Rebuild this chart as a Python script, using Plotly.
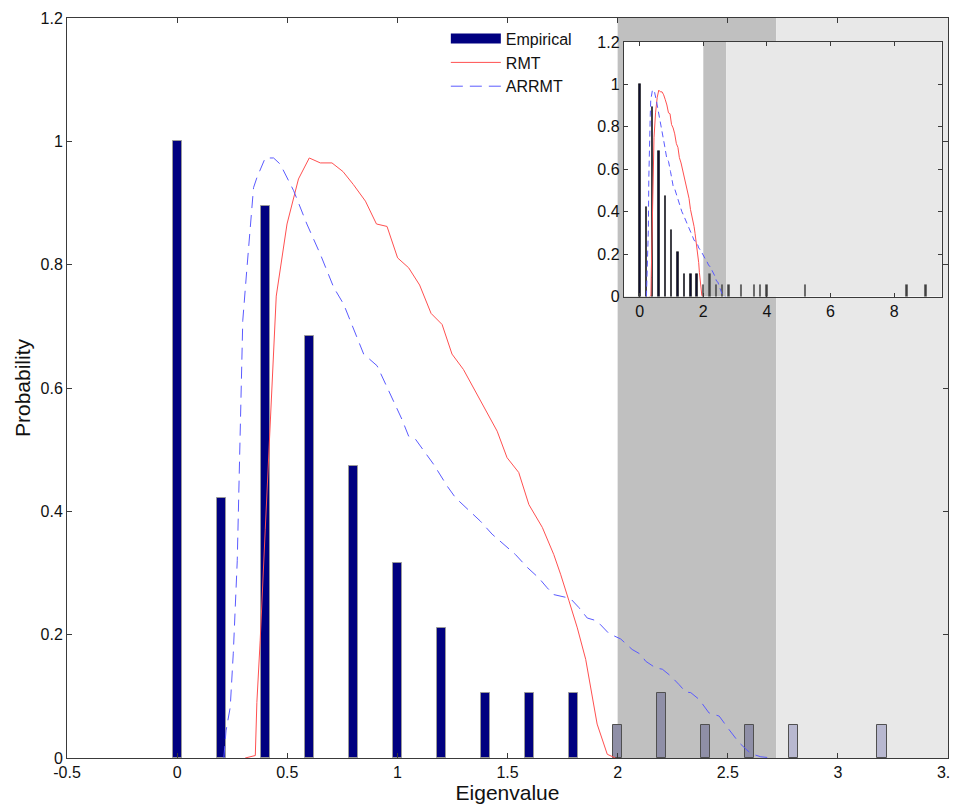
import plotly.graph_objects as go

# ---------------- data ----------------
eig_bins = [0.0, 0.2, 0.4, 0.6, 0.8, 1.0, 1.2, 1.4, 1.6, 1.8, 2.0, 2.2, 2.4, 2.6, 2.8,
            3.2, 3.6, 3.8, 4.0, 5.2, 8.4, 9.0]
emp_prob = [1.0, 0.421, 0.895, 0.684, 0.474, 0.316, 0.211, 0.105, 0.105, 0.105, 0.053,
            0.105, 0.053, 0.053, 0.053, 0.053, 0.053, 0.053, 0.053, 0.053, 0.053, 0.053]

rmt_x = [0.309, 0.355, 0.362, 0.377, 0.40, 0.423, 0.45, 0.499, 0.551, 0.60, 0.65, 0.703,
         0.753, 0.80, 0.855, 0.905, 0.953, 1.001, 1.051, 1.101, 1.153, 1.203, 1.248, 1.30,
         1.377, 1.453, 1.498, 1.551, 1.597, 1.658, 1.71, 1.741, 1.779, 1.817, 1.855, 1.877,
         1.907, 1.953, 1.99]
rmt_y = [0.0, 0.004, 0.09, 0.19, 0.37, 0.549, 0.749, 0.866, 0.939, 0.973, 0.965, 0.965,
         0.951, 0.930, 0.903, 0.866, 0.862, 0.811, 0.795, 0.767, 0.721, 0.703, 0.655, 0.630,
         0.579, 0.530, 0.487, 0.463, 0.411, 0.374, 0.330, 0.298, 0.255, 0.211, 0.160, 0.114,
         0.055, 0.006, 0.0]

arr_x = [0.212, 0.222, 0.241, 0.255, 0.273, 0.286, 0.298, 0.316, 0.332, 0.347, 0.362, 0.400,
         0.438, 0.468, 0.529, 0.589, 0.65, 0.711, 0.756, 0.786, 0.847, 0.908, 0.968, 1.021,
         1.051, 1.082, 1.165, 1.226, 1.264, 1.324, 1.377, 1.430, 1.483, 1.536, 1.590, 1.642,
         1.680, 1.710, 1.771, 1.79, 1.824, 1.862, 1.90, 1.92, 1.96, 2.014, 2.066, 2.105, 2.127,
         2.173, 2.203, 2.241, 2.279, 2.309, 2.332, 2.370, 2.415, 2.461, 2.506, 2.551, 2.605,
         2.65, 2.703]
arr_y = [0.0, 0.044, 0.082, 0.17, 0.32, 0.552, 0.709, 0.790, 0.855, 0.925, 0.941, 0.973,
         0.973, 0.963, 0.920, 0.866, 0.817, 0.763, 0.736, 0.709, 0.655, 0.636, 0.590, 0.549,
         0.522, 0.517, 0.476, 0.441, 0.422, 0.401, 0.384, 0.363, 0.347, 0.330, 0.309, 0.292,
         0.276, 0.265, 0.260, 0.257, 0.244, 0.227, 0.223, 0.217, 0.202, 0.193, 0.176, 0.168,
         0.157, 0.146, 0.144, 0.133, 0.119, 0.107, 0.106, 0.095, 0.073, 0.068, 0.046, 0.025,
         0.007, 0.002, 0.0]

rmt_edge = 2.0      # start of dark shaded band
arrmt_edge = 2.72   # start of light shaded band
main_xrange = [-0.5, 3.5]
inset_xrange = [-0.5, 9.5]
y_range = [0, 1.2]
main_xticks = [-0.5, 0, 0.5, 1, 1.5, 2, 2.5, 3, 3.5]
main_xticklabels = ["-0.5", "0", "0.5", "1", "1.5", "2", "2.5", "3", "3.5"]
inset_xticks = [0, 2, 4, 6, 8]
inset_xticklabels = ["0", "2", "4", "6", "8"]
y_ticks = [0, 0.2, 0.4, 0.6, 0.8, 1, 1.2]
y_ticklabels = ["0", "0.2", "0.4", "0.6", "0.8", "1", "1.2"]

# ---------------- styling ----------------
FONT = "Arial, Liberation Sans, Helvetica, sans-serif"
NAVY = "#000080"
DARK_BAND = "#c0c0c0"
LIGHT_BAND = "#e8e8e8"
RED = "#ff5050"
BLUE = "#5a5aff"
AX = "#3a3a3a"
TXT = "#111111"


def bar_fill(x):
    if x < rmt_edge - 1e-9:
        return NAVY
    if x < arrmt_edge:
        return "rgb(143,143,167)"
    return "rgb(184,184,208)"


def bar_edge(x, inset=False):
    if x < rmt_edge - 1e-9:
        return "#111111" if inset else "#9a9a9a"
    return "#505050"


fig = go.Figure()

# main axes traces
fig.add_trace(go.Bar(
    x=eig_bins, y=emp_prob, width=0.042, name="Empirical",
    marker=dict(color=[bar_fill(v) for v in eig_bins],
                line=dict(color=[bar_edge(v) for v in eig_bins], width=1)),
    xaxis="x", yaxis="y", showlegend=False))
# legend-only entry giving the wide patch used by the original legend
fig.add_trace(go.Scatter(
    x=[None], y=[None], mode="lines", name="Empirical",
    line=dict(color=NAVY, width=15), xaxis="x", yaxis="y"))
fig.add_trace(go.Scatter(
    x=rmt_x, y=rmt_y, mode="lines", name="RMT",
    line=dict(color=RED, width=1), xaxis="x", yaxis="y"))
fig.add_trace(go.Scatter(
    x=arr_x, y=arr_y, mode="lines", name="ARRMT",
    line=dict(color=BLUE, width=1, dash="12px,7px"), xaxis="x", yaxis="y"))

# inset traces
fig.add_trace(go.Bar(
    x=eig_bins, y=emp_prob, width=0.045, name="Empirical",
    marker=dict(color=["#101030" if v < rmt_edge else "#404040" for v in eig_bins],
                line=dict(color=[bar_edge(v, True) for v in eig_bins], width=0.6)),
    xaxis="x2", yaxis="y2", showlegend=False))
fig.add_trace(go.Scatter(
    x=rmt_x, y=rmt_y, mode="lines", name="RMT",
    line=dict(color=RED, width=1), xaxis="x2", yaxis="y2", showlegend=False))
fig.add_trace(go.Scatter(
    x=arr_x, y=arr_y, mode="lines", name="ARRMT",
    line=dict(color=BLUE, width=1, dash="6px,4px"), xaxis="x2", yaxis="y2", showlegend=False))

shapes = [
    dict(type="rect", xref="x", yref="y", x0=rmt_edge, x1=arrmt_edge, y0=y_range[0], y1=y_range[1],
         fillcolor=DARK_BAND, line=dict(width=0), layer="below"),
    dict(type="rect", xref="x", yref="y", x0=arrmt_edge, x1=main_xrange[1], y0=y_range[0], y1=y_range[1],
         fillcolor=LIGHT_BAND, line=dict(width=0), layer="below"),
    dict(type="rect", xref="x2", yref="y2", x0=inset_xrange[0], x1=inset_xrange[1], y0=y_range[0], y1=y_range[1],
         fillcolor="white", line=dict(width=0), layer="below"),
    dict(type="rect", xref="x2", yref="y2", x0=rmt_edge, x1=arrmt_edge, y0=y_range[0], y1=y_range[1],
         fillcolor=DARK_BAND, line=dict(width=0), layer="below"),
    dict(type="rect", xref="x2", yref="y2", x0=arrmt_edge, x1=inset_xrange[1], y0=y_range[0], y1=y_range[1],
         fillcolor=LIGHT_BAND, line=dict(width=0), layer="below"),
]

axis_common = dict(showgrid=False, zeroline=False, showline=True, linecolor=AX, linewidth=1,
                   mirror="ticks", ticks="inside", ticklen=5, tickcolor=AX, tickwidth=1,
                   automargin=False, ticklabeloverflow="allow",
                   tickfont=dict(family=FONT, size=16, color=TXT))

# the page body has an 8px margin, so the figure is sized to fit the window
fig.update_layout(
    width=950, height=798,
    margin=dict(l=59, r=10, t=10, b=48),
    paper_bgcolor="white", plot_bgcolor="white",
    font=dict(family=FONT, color=TXT),
    barmode="overlay",
    shapes=shapes,
    xaxis=dict(axis_common, range=main_xrange, tickmode="array",
               tickvals=main_xticks, ticktext=main_xticklabels,
               domain=[0, 1], anchor="y",
               title=dict(text="Eigenvalue", font=dict(family=FONT, size=21, color=TXT), standoff=2)),
    yaxis=dict(axis_common, range=y_range, tickmode="array",
               tickvals=y_ticks, ticktext=y_ticklabels,
               domain=[0, 1], anchor="x",
               title=dict(text="Probability", font=dict(family=FONT, size=21, color=TXT), standoff=4)),
    xaxis2=dict(axis_common, range=inset_xrange, tickmode="array",
                tickvals=inset_xticks, ticktext=inset_xticklabels,
                domain=[0.632, 0.993], anchor="y2", ticklen=4),
    yaxis2=dict(axis_common, range=y_range, tickmode="array",
                tickvals=y_ticks, ticktext=y_ticklabels,
                domain=[0.6235, 0.9676], anchor="x2", ticklen=4),
    legend=dict(x=0.43, y=0.995, xanchor="left", yanchor="top",
                bgcolor="rgba(255,255,255,0)", borderwidth=0,
                font=dict(family=FONT, size=16, color=TXT),
                itemwidth=50, tracegroupgap=0),
    bargap=0,
)

fig.write_html("out.html")
